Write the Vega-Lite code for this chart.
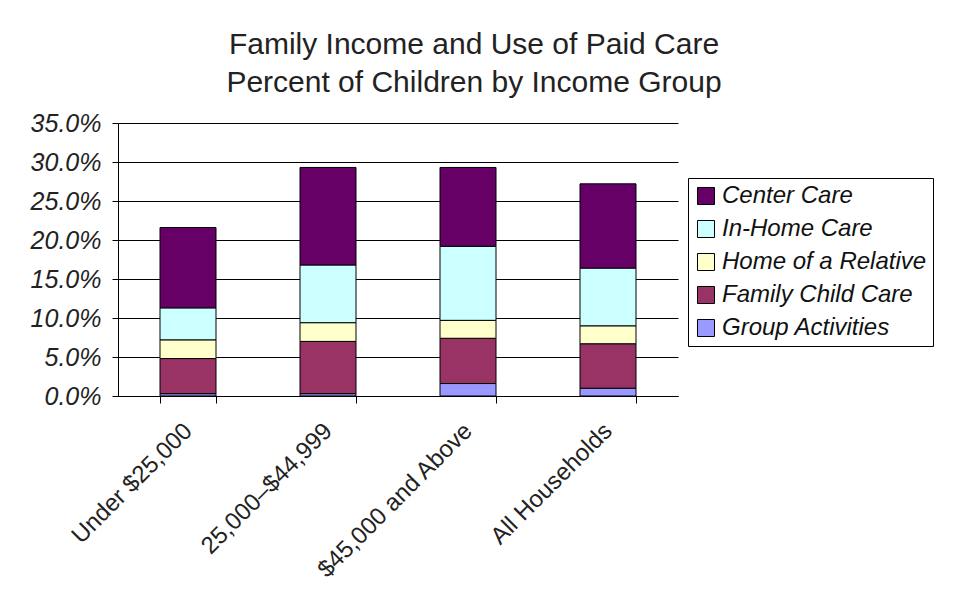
{
  "$schema": "https://vega.github.io/schema/vega-lite/v6.json",
  "width": 560,
  "height": 273,
  "autosize": {"type": "none"},
  "padding": {"left": 118, "top": 123, "right": 275, "bottom": 205},
  "background": "white",
  "title": {
    "text": ["Family Income and Use of Paid Care", "Percent of Children by Income Group"],
    "font": "Liberation Sans",
    "fontSize": 30,
    "fontWeight": "normal",
    "color": "#222222",
    "lineHeight": 38,
    "anchor": "middle",
    "dx": 76,
    "offset": 13
  },
  "data": {
    "values": [
      {"group": "Under $25,000", "type": "Group Activities", "k": 1, "value": 0.003},
      {"group": "Under $25,000", "type": "Family Child Care", "k": 2, "value": 0.045},
      {"group": "Under $25,000", "type": "Home of a Relative", "k": 3, "value": 0.024},
      {"group": "Under $25,000", "type": "In-Home Care", "k": 4, "value": 0.041},
      {"group": "Under $25,000", "type": "Center Care", "k": 5, "value": 0.103},
      {"group": "25,000–$44,999", "type": "Group Activities", "k": 1, "value": 0.003},
      {"group": "25,000–$44,999", "type": "Family Child Care", "k": 2, "value": 0.067},
      {"group": "25,000–$44,999", "type": "Home of a Relative", "k": 3, "value": 0.024},
      {"group": "25,000–$44,999", "type": "In-Home Care", "k": 4, "value": 0.074},
      {"group": "25,000–$44,999", "type": "Center Care", "k": 5, "value": 0.125},
      {"group": "$45,000 and Above", "type": "Group Activities", "k": 1, "value": 0.016},
      {"group": "$45,000 and Above", "type": "Family Child Care", "k": 2, "value": 0.058},
      {"group": "$45,000 and Above", "type": "Home of a Relative", "k": 3, "value": 0.023},
      {"group": "$45,000 and Above", "type": "In-Home Care", "k": 4, "value": 0.095},
      {"group": "$45,000 and Above", "type": "Center Care", "k": 5, "value": 0.101},
      {"group": "All Households", "type": "Group Activities", "k": 1, "value": 0.010},
      {"group": "All Households", "type": "Family Child Care", "k": 2, "value": 0.057},
      {"group": "All Households", "type": "Home of a Relative", "k": 3, "value": 0.023},
      {"group": "All Households", "type": "In-Home Care", "k": 4, "value": 0.074},
      {"group": "All Households", "type": "Center Care", "k": 5, "value": 0.108}
    ]
  },
  "mark": {"type": "bar", "stroke": "black", "strokeWidth": 1},
  "encoding": {
    "x": {
      "field": "group",
      "type": "nominal",
      "sort": ["Under $25,000", "25,000–$44,999", "$45,000 and Above", "All Households"],
      "scale": {"paddingInner": 0.6, "paddingOuter": 0.3},
      "axis": {
        "title": null,
        "labelAngle": -45,
        "labelFont": "Liberation Sans",
        "labelFontSize": 24,
        "labelColor": "#222222",
        "labelAlign": "right",
        "labelBaseline": "middle",
        "labelPadding": 24,
        "labelLimit": 400,
        "labelOverlap": false,
        "domainColor": "black",
        "tickColor": "black",
        "tickBand": "extent",
        "tickSize": 7,
        "grid": false
      }
    },
    "y": {
      "field": "value",
      "type": "quantitative",
      "stack": "zero",
      "scale": {"domain": [0, 0.35], "nice": false},
      "axis": {
        "title": null,
        "format": ".1%",
        "values": [0, 0.05, 0.1, 0.15, 0.2, 0.25, 0.3, 0.35],
        "labelFont": "Liberation Sans",
        "labelFontSize": 25,
        "labelFontStyle": "italic",
        "labelColor": "#222222",
        "labelPadding": 11,
        "domainColor": "black",
        "tickColor": "black",
        "tickSize": 6,
        "grid": true,
        "gridColor": "black",
        "gridOpacity": 1
      }
    },
    "color": {
      "field": "type",
      "type": "nominal",
      "scale": {
        "domain": ["Center Care", "In-Home Care", "Home of a Relative", "Family Child Care", "Group Activities"],
        "range": ["#660066", "#CCFFFF", "#FFFFCC", "#993366", "#9999FF"]
      },
      "legend": {
        "title": null,
        "orient": "none",
        "legendX": 570,
        "legendY": 55,
        "strokeColor": "black",
        "fillColor": "white",
        "padding": 6,
        "symbolType": "square",
        "symbolSize": 290,
        "symbolStrokeColor": "black",
        "symbolStrokeWidth": 1,
        "symbolOpacity": 1,
        "labelFont": "Liberation Sans",
        "labelFontSize": 24,
        "labelFontStyle": "italic",
        "labelColor": "#111111",
        "labelLimit": 300,
        "labelOffset": 4,
        "rowPadding": 9
      }
    },
    "order": {"field": "k", "type": "quantitative"}
  },
  "config": {"view": {"stroke": null}}
}
